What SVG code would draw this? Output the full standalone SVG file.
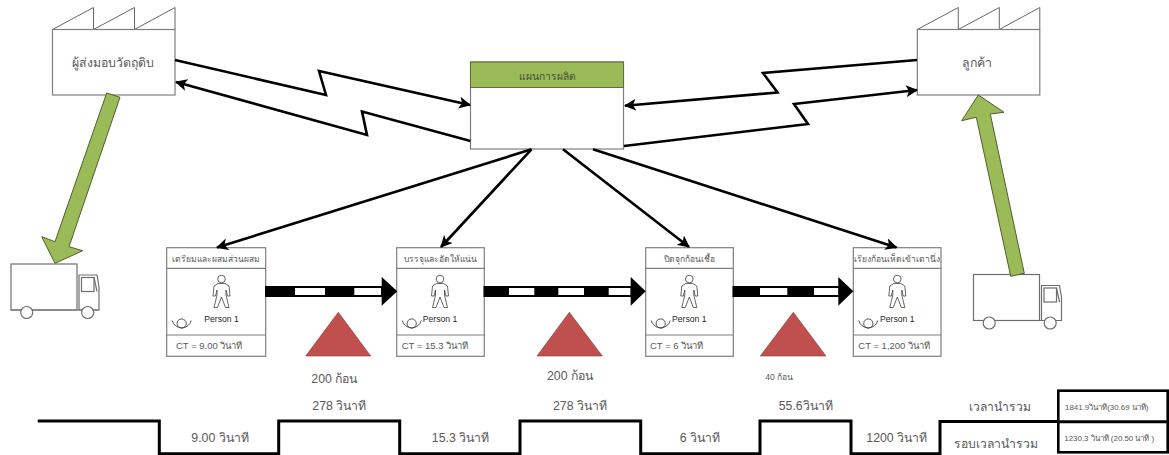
<svg xmlns="http://www.w3.org/2000/svg" width="1169" height="455" viewBox="0 0 1169 455">
<style>
text{font-family:"Liberation Sans","Noto Sans",sans-serif;fill:#595959;text-anchor:middle}
.box{fill:#fff;stroke:#7f7f7f;stroke-width:1.2}
.rule{fill:none;stroke:#7f7f7f;stroke-width:1.2}
.line{fill:none;stroke:#000;stroke-width:2.6}
.thick{fill:none;stroke:#000;stroke-width:3}
.pull{fill:#9bbb59;stroke:#4f5f2a;stroke-width:1}
.tri{fill:#c0504d;stroke:#8c3836;stroke-width:.6}
.bk{fill:#000}
.wh{fill:#fff;stroke:#000;stroke-width:2}
.truck{fill:#fff;stroke:#6e6e6e;stroke-width:1.2}
.name{font-size:12.3px}
.title{font-size:8.5px}
.who{font-size:8.6px;fill:#262626}
.ct{font-size:9.5px;text-anchor:start}
.lab{font-size:12.3px}
.sum{font-size:12.2px}
.tiny{font-size:7.9px}
.small{font-size:8.6px}
</style>
<defs>
<marker id="a" markerUnits="userSpaceOnUse" markerWidth="13" markerHeight="12" refX="11" refY="6" orient="auto"><path d="M0 0L12 6L0 12L3 6Z" fill="#000"/></marker>
<g id="person" fill="none" stroke="#404040" stroke-width=".8">
<circle cx="0" cy="4" r="3.8"/>
<path d="M-3.5 8.5L3.5 8.5L7.5 11L8.5 21L6 21L4.5 15L4.5 20L7.5 32.5L4 32.5L0 22L-4 32.5L-7.5 32.5L-4.5 20L-4.5 15L-6 21L-8.5 21L-7.5 11Z"/>
</g>
<g id="operator" fill="none" stroke="#404040" stroke-width=".9">
<circle cx="0" cy="-.5" r="4.6"/><path d="M-9.5 -3.5A9.8 9.8 0 0 0 9.5 -3.5"/>
</g>
<g id="truck">
<rect class="truck" x="0" y="0" width="66" height="46"/>
<path class="truck" d="M68 46L68 11L86 11L88 23L88 46Z"/>
<rect class="truck" x="70.5" y="13.5" width="12.5" height="14"/>
<path class="truck" d="M83 13.5L86 27.5"/>
<path class="truck" d="M0 46L88 46" />
<circle class="truck" cx="15.7" cy="48.5" r="6"/>
<circle class="truck" cx="76.7" cy="48.5" r="6"/>
</g>
<path id="roof" fill="#fff" stroke="#666" stroke-width="1" d="M0 22L41 0L41 22L82 0L82 22L122.5 0L122.5 22"/>
</defs>

<g id="supplier">
<use href="#roof" x="52.5" y="7.5"/>
<rect class="box" x="52.5" y="29.5" width="122.5" height="65.5"/>
<text class="name" x="113" y="67">ผู้ส่งมอบวัตถุดิบ</text>
</g>
<g id="customer">
<use href="#roof" x="917.3" y="7.5"/>
<rect class="box" x="917.3" y="29.5" width="122.5" height="65.5"/>
<text class="name" x="977" y="67">ลูกค้า</text>
</g>
<g id="plan">
<rect class="box" x="470.5" y="62" width="153" height="87"/>
<rect x="470.5" y="62" width="153" height="25.5" fill="#9bbb59" stroke="#5f6f3a" stroke-width="1"/>
<text x="547" y="80" font-size="10.3" style="fill:#4a4a3a">แผนการผลิต</text>
</g>

<g id="truck-in"><use href="#truck" x="11" y="264"/></g>
<g id="truck-out"><use href="#truck" x="973.5" y="274.5"/></g>

<g id="process-1">
<rect class="box" x="166.7" y="247.7" width="99" height="108.6"/>
<path class="rule" d="M166.7 268.3H265.7M166.7 335H265.7"/>
<text class="title" x="216" y="262">เตรียมและผสมส่วนผสม</text>
<use href="#person" x="221.5" y="275"/>
<text class="who" x="221.5" y="322">Person 1</text>
<use href="#operator" x="181.7" y="324"/>
<text class="ct" x="176" y="349">CT = 9.00 วินาที</text>
</g>
<g id="process-2">
<rect class="box" x="396.7" y="247.7" width="87.6" height="108.6"/>
<path class="rule" d="M396.7 268.3H484.3M396.7 335H484.3"/>
<text class="title" x="440.5" y="262">บรรจุและอัดให้แน่น</text>
<use href="#person" x="440" y="275"/>
<text class="who" x="440" y="322">Person 1</text>
<use href="#operator" x="411.7" y="324"/>
<text class="ct" x="401.7" y="349">CT = 15.3 วินาที</text>
</g>
<g id="process-3">
<rect class="box" x="645.7" y="247.7" width="87.6" height="108.6"/>
<path class="rule" d="M645.7 268.3H733.3M645.7 335H733.3"/>
<text class="title" x="689.5" y="262">ปิดจุกก้อนเชื้อ</text>
<use href="#person" x="689.3" y="275"/>
<text class="who" x="689.3" y="322">Person 1</text>
<use href="#operator" x="660.7" y="324"/>
<text class="ct" x="650" y="349">CT = 6 วินาที</text>
</g>
<g id="process-4">
<rect class="box" x="853.3" y="247.7" width="87.7" height="108.6"/>
<path class="rule" d="M853.3 268.3H941M853.3 335H941"/>
<text class="title" x="897" y="262">เรียงก้อนเห็ดเข้าเตานึ่ง</text>
<use href="#person" x="897.3" y="275"/>
<text class="who" x="897.3" y="322">Person 1</text>
<use href="#operator" x="868.3" y="324"/>
<text class="ct" x="858.3" y="349">CT = 1,200 วินาที</text>
</g>

<g id="inventory-1"><path class="tri" d="M338.3 312.3L370.7 356H305.7Z"/><text class="lab" x="334.3" y="383">200 ก้อน</text></g>
<g id="inventory-2"><path class="tri" d="M569.3 312.3L602.3 356H537Z"/><text class="lab" x="570" y="380">200 ก้อน</text></g>
<g id="inventory-3"><path class="tri" d="M793.3 312.3L826 356H760.3Z"/><text class="small" x="779.3" y="380">40 ก้อน</text></g>

<g id="connectors">
<path class="line" d="M175 60L326 95L319 71L470 105" marker-end="url(#a)"/>
<path class="line" d="M470.5 141L362 111.5L367 135L176 82" marker-end="url(#a)"/>
<path class="line" d="M917 60L763 73L777.5 92.5L625 105.7" marker-end="url(#a)"/>
<path class="line" d="M624 146L808 124L794 104L917 90" marker-end="url(#a)"/>
<path class="line" d="M531.5 149.3L217 247.5" marker-end="url(#a)"/>
<path class="line" d="M531.5 149.3L441 247" marker-end="url(#a)"/>
<path class="line" d="M563 149.3L689 247" marker-end="url(#a)"/>
<path class="line" d="M593 149.3L896.5 247.5" marker-end="url(#a)"/>

<g id="push-1">
<rect class="wh" x="266" y="287" width="116" height="9"/>
<rect class="bk" x="265.7" y="286" width="29.3" height="11"/>
<rect class="bk" x="325" y="286" width="29.3" height="11"/>
<path class="bk" d="M381.7 277L397.3 291.3L381.7 305.7Z"/>
</g>
<g id="push-2">
<rect class="wh" x="484.5" y="287" width="147" height="9"/>
<rect class="bk" x="484.3" y="286" width="24.7" height="11"/>
<rect class="bk" x="534.3" y="286" width="24" height="11"/>
<rect class="bk" x="584" y="286" width="24.7" height="11"/>
<path class="bk" d="M630.7 277L645.7 291.3L630.7 305.7Z"/>
</g>
<g id="push-3">
<rect class="wh" x="733.5" y="287" width="106" height="9"/>
<rect class="bk" x="733.3" y="286" width="26.7" height="11"/>
<rect class="bk" x="787.3" y="286" width="26.7" height="11"/>
<path class="bk" d="M838.3 277L853.3 291.3L838.3 305.7Z"/>
</g>

<path id="pull-in" class="pull" d="M106.7 93L120 97.3L69 246.7L82.7 250.7L55 263.3L41.7 236.7L55 241.7Z"/>
<path id="pull-out" class="pull" d="M1010.7 276.3L1024.3 273.3L990.3 114L1004 112.3L978.3 95L961.7 120.7L976.3 117.3Z"/>

<path id="timeline" class="thick" d="M37.7 421H159.3V453.7H278.7V421H399.7V453.7H520V421H640.7V453.7H760V421H851V453.7H940V421.5H1058"/>
</g>

<g id="timeline-labels">
<text class="lab" x="339.3" y="410">278 วินาที</text>
<text class="lab" x="580" y="410">278 วินาที</text>
<text class="lab" x="805.7" y="410">55.6วินาที</text>
<text class="lab" x="220" y="442">9.00 วินาที</text>
<text class="lab" x="460.5" y="442">15.3 วินาที</text>
<text class="lab" x="700" y="442">6 วินาที</text>
<text class="lab" x="896.7" y="442">1200 วินาที</text>
<text class="sum" x="1000" y="411">เวลานำรวม</text>
<text class="sum" x="996" y="448">รอบเวลานำรวม</text>
</g>
<g id="totals">
<rect x="1058.3" y="390.7" width="109.4" height="61.6" fill="#fff" stroke="#000" stroke-width="2.6"/>
<path class="thick" d="M1058.3 421.7H1167.7"/>
<text class="tiny" x="1106.7" y="410">1841.9วินาที(30.69 นาที)</text>
<text class="tiny" x="1109.3" y="441">1230.3 วินาที (20.50 นาที )</text>
</g>
</svg>
